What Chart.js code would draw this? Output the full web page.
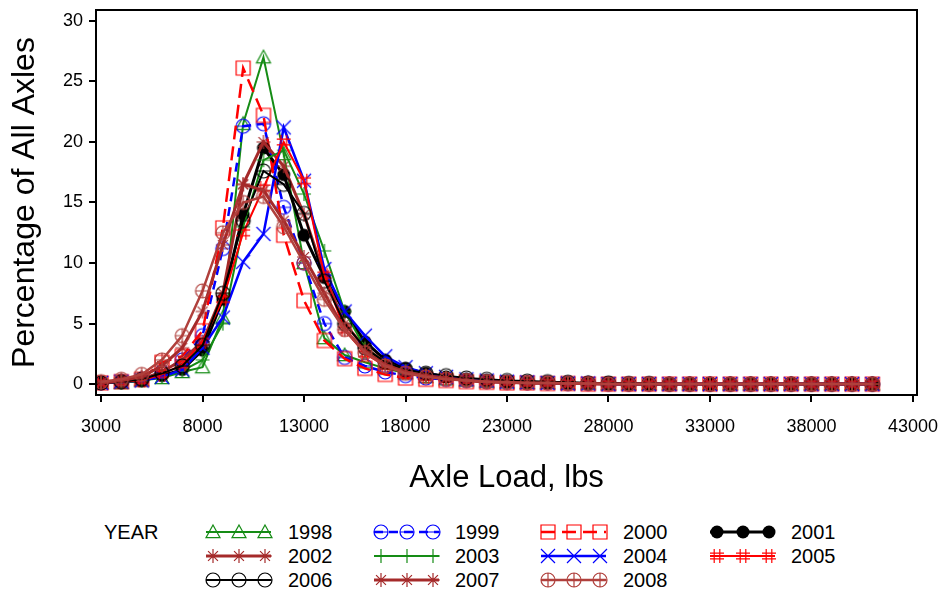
<!DOCTYPE html>
<html>
<head>
<meta charset="utf-8">
<script src="https://cdn.jsdelivr.net/npm/chart.js@4.4.0/dist/chart.umd.min.js"></script>
<style>
  body { margin: 0; background: #fff; font-family: "Liberation Sans", Arial, sans-serif; }
  #wrap { position: relative; width: 940px; height: 596px; }
  #c { position: absolute; left: 0; top: 0; }
  .leg { position: absolute; font-size: 20px; color: #000; line-height: 24px; }
  .leg canvas { position: absolute; }
</style>
</head>
<body>
<div id="wrap">
  <canvas id="c" width="940" height="505"></canvas>
  <div id="legend"></div>
</div>
<script>
const loads = [3000, 4000, 5000, 6000, 7000, 8000, 9000, 10000, 11000, 12000, 13000, 14000, 15000,
  16000, 17000, 18000, 19000, 20000, 21000, 22000, 23000, 24000, 25000, 26000, 27000, 28000, 29000,
  30000, 31000, 32000, 33000, 34000, 35000, 36000, 37000, 38000, 39000, 40000, 41000];
const xTicks = [3000, 8000, 13000, 18000, 23000, 28000, 33000, 38000, 43000];
const yTicks = [0, 5, 10, 15, 20, 25, 30];
const years = ["1998", "1999", "2000", "2001", "2002", "2003", "2004", "2005", "2006", "2007", "2008"];

const y1998 = [0.1, 0.1, 0.3, 0.5, 1.0, 1.4, 5.5, 21.5, 27.0, 19.0, 10.0, 3.8, 2.4, 1.8, 1.3, 0.9, 0.6, 0.4, 0.3, 0.2, 0.15, 0.1, 0.1, 0.05, 0.05, 0.0, 0.0, 0.0, 0.0, 0.0, 0.0, 0.0, 0.0, 0.0, 0.0, 0.0, 0.0, 0.0, 0.0];
const y1999 = [0.1, 0.2, 0.4, 1.0, 2.0, 4.0, 11.2, 21.3, 21.5, 14.6, 10.0, 5.0, 2.2, 1.5, 1.0, 0.7, 0.5, 0.4, 0.3, 0.2, 0.15, 0.1, 0.1, 0.05, 0.05, 0.0, 0.0, 0.0, 0.0, 0.0, 0.0, 0.0, 0.0, 0.0, 0.0, 0.0, 0.0, 0.0, 0.0];
const y2000 = [0.1, 0.2, 0.4, 1.8, 2.3, 4.4, 12.9, 26.1, 22.2, 12.3, 6.9, 3.6, 2.1, 1.3, 0.8, 0.5, 0.4, 0.3, 0.2, 0.15, 0.1, 0.1, 0.05, 0.05, 0.0, 0.0, 0.0, 0.0, 0.0, 0.0, 0.0, 0.0, 0.0, 0.0, 0.0, 0.0, 0.0, 0.0, 0.0];
const y2001 = [0.1, 0.2, 0.3, 0.7, 1.2, 2.8, 7.0, 14.0, 19.5, 17.3, 12.3, 8.8, 6.0, 3.5, 2.0, 1.3, 0.9, 0.6, 0.4, 0.3, 0.2, 0.15, 0.1, 0.1, 0.05, 0.05, 0.0, 0.0, 0.0, 0.0, 0.0, 0.0, 0.0, 0.0, 0.0, 0.0, 0.0, 0.0, 0.0];
const y2002 = [0.1, 0.2, 0.4, 1.0, 2.0, 3.5, 7.5, 16.5, 20.0, 18.0, 14.0, 9.0, 5.0, 3.0, 1.8, 1.1, 0.7, 0.5, 0.3, 0.2, 0.15, 0.1, 0.1, 0.05, 0.05, 0.0, 0.0, 0.0, 0.0, 0.0, 0.0, 0.0, 0.0, 0.0, 0.0, 0.0, 0.0, 0.0, 0.0];
const y2003 = [0.1, 0.1, 0.3, 0.6, 1.1, 2.0, 5.0, 13.0, 18.5, 19.3, 15.7, 11.0, 6.0, 3.0, 1.8, 1.1, 0.7, 0.5, 0.3, 0.2, 0.15, 0.1, 0.1, 0.05, 0.05, 0.0, 0.0, 0.0, 0.0, 0.0, 0.0, 0.0, 0.0, 0.0, 0.0, 0.0, 0.0, 0.0, 0.0];
const y2004 = [0.1, 0.2, 0.3, 0.6, 1.2, 3.0, 5.5, 10.1, 12.4, 21.2, 16.8, 9.5, 6.0, 4.0, 2.3, 1.4, 0.9, 0.6, 0.4, 0.3, 0.2, 0.15, 0.1, 0.05, 0.05, 0.0, 0.0, 0.0, 0.0, 0.0, 0.0, 0.0, 0.0, 0.0, 0.0, 0.0, 0.0, 0.0, 0.0];
const y2005 = [0.1, 0.2, 0.3, 0.8, 1.6, 3.5, 7.0, 12.5, 16.2, 20.0, 16.8, 9.0, 4.5, 2.5, 1.5, 0.9, 0.6, 0.4, 0.3, 0.2, 0.15, 0.1, 0.1, 0.05, 0.05, 0.0, 0.0, 0.0, 0.0, 0.0, 0.0, 0.0, 0.0, 0.0, 0.0, 0.0, 0.0, 0.0, 0.0];
const y2006 = [0.1, 0.2, 0.4, 0.9, 1.5, 3.2, 7.5, 13.5, 17.6, 16.5, 14.1, 8.5, 5.0, 3.0, 1.8, 1.2, 0.9, 0.7, 0.5, 0.4, 0.3, 0.25, 0.2, 0.15, 0.1, 0.1, 0.05, 0.05, 0.0, 0.0, 0.0, 0.0, 0.0, 0.0, 0.0, 0.0, 0.0, 0.0, 0.0];
const y2007 = [0.1, 0.3, 0.6, 1.5, 3.0, 6.0, 11.5, 16.5, 16.0, 13.5, 10.5, 7.5, 4.5, 2.7, 1.6, 1.0, 0.7, 0.5, 0.3, 0.2, 0.15, 0.1, 0.1, 0.05, 0.05, 0.0, 0.0, 0.0, 0.0, 0.0, 0.0, 0.0, 0.0, 0.0, 0.0, 0.0, 0.0, 0.0, 0.0];
const y2008 = [0.2, 0.4, 0.8, 2.0, 4.0, 7.7, 12.5, 15.0, 15.5, 13.0, 10.0, 7.0, 4.5, 2.6, 1.5, 0.9, 0.6, 0.4, 0.3, 0.2, 0.15, 0.1, 0.1, 0.05, 0.05, 0.0, 0.0, 0.0, 0.0, 0.0, 0.0, 0.0, 0.0, 0.0, 0.0, 0.0, 0.0, 0.0, 0.0];

const values = [y1998, y1999, y2000, y2001, y2002, y2003, y2004, y2005, y2006, y2007, y2008];
const colors = ["#158c15", "#0000ff", "#ff0000", "#000000", "#a52a2a", "#158c15", "#0000ff", "#ff0000", "#000000", "#a52a2a", "#b0403c"];
const markers = ["triangle", "circleBar", "square", "dot", "star", "plus", "x", "hash", "circleBar", "star", "circlePlus"];
const widths = [2, 2.5, 2.5, 3, 3, 2, 2.5, 2, 2, 3, 2.5];
const dashes = [[], [9, 6], [14, 7], [], [], [], [], [], [], [], []];

function drawMarker(ctx, kind, cx, cy, r, color) {
  ctx.save();
  ctx.strokeStyle = color;
  ctx.fillStyle = color;
  ctx.lineWidth = 1.2;
  ctx.setLineDash([]);
  ctx.beginPath();
  if (kind === "triangle") {
    ctx.moveTo(cx, cy - r);
    ctx.lineTo(cx + r, cy + r * 0.8);
    ctx.lineTo(cx - r, cy + r * 0.8);
    ctx.closePath();
  } else if (kind === "square") {
    ctx.rect(cx - r, cy - r, 2 * r, 2 * r);
  } else if (kind === "dot") {
    ctx.arc(cx, cy, r - 0.5, 0, Math.PI * 2);
    ctx.fill();
  } else if (kind === "circleBar" || kind === "circlePlus") {
    ctx.arc(cx, cy, r, 0, Math.PI * 2);
    ctx.moveTo(cx - r, cy);
    ctx.lineTo(cx + r, cy);
    if (kind === "circlePlus") {
      ctx.moveTo(cx, cy - r);
      ctx.lineTo(cx, cy + r);
    }
  } else if (kind === "star") {
    for (let k = 0; k < 4; k++) {
      const a = k * Math.PI / 4;
      ctx.moveTo(cx + Math.cos(a) * r, cy + Math.sin(a) * r);
      ctx.lineTo(cx - Math.cos(a) * r, cy - Math.sin(a) * r);
    }
  } else if (kind === "plus") {
    ctx.moveTo(cx - r, cy); ctx.lineTo(cx + r, cy);
    ctx.moveTo(cx, cy - r); ctx.lineTo(cx, cy + r);
  } else if (kind === "x") {
    ctx.moveTo(cx - r, cy - r); ctx.lineTo(cx + r, cy + r);
    ctx.moveTo(cx + r, cy - r); ctx.lineTo(cx - r, cy + r);
  } else if (kind === "hash") {
    const q = r * 0.4;
    ctx.moveTo(cx - q, cy - r); ctx.lineTo(cx - q, cy + r);
    ctx.moveTo(cx + q, cy - r); ctx.lineTo(cx + q, cy + r);
    ctx.moveTo(cx - r, cy - q); ctx.lineTo(cx + r, cy - q);
    ctx.moveTo(cx - r, cy + q); ctx.lineTo(cx + r, cy + q);
  }
  if (kind !== "dot") ctx.stroke();
  ctx.restore();
}

function markerImage(kind, color) {
  const r = 7;
  const c = document.createElement("canvas");
  c.width = c.height = 2 * r + 4;
  drawMarker(c.getContext("2d"), kind, r + 2, r + 2, r, color);
  return c;
}

const datasets = years.map((year, i) => ({
  label: year,
  data: loads.map((x, j) => ({ x: x, y: values[i][j] })),
  borderColor: colors[i],
  backgroundColor: colors[i],
  borderWidth: widths[i],
  borderDash: dashes[i],
  pointStyle: markerImage(markers[i], colors[i]),
  pointRadius: 7,
  tension: 0,
  order: years.length - i,
}));

const frame = {
  id: "frame",
  afterDraw(chart) {
    const { ctx, chartArea: a } = chart;
    ctx.save();
    ctx.strokeStyle = "#000";
    ctx.lineWidth = 2;
    ctx.strokeRect(a.left, a.top, a.right - a.left, a.bottom - a.top);
    ctx.restore();
  },
};

new Chart(document.getElementById("c"), {
  type: "line",
  data: { datasets },
  plugins: [frame],
  options: {
    responsive: false,
    devicePixelRatio: 1,
    animation: false,
    layout: { padding: { top: 9, right: 23, left: 0, bottom: 0 } },
    plugins: { legend: { display: false }, tooltip: { enabled: false } },
    scales: {
      x: {
        type: "linear",
        min: 2750,
        max: 43200,
        afterBuildTicks: (s) => { s.ticks = xTicks.map((v) => ({ value: v })); },
        afterFit: (s) => { s.height = 110; s.paddingLeft = 0; s.paddingRight = 0; },
        ticks: { color: "#000", font: { size: 18, family: "Liberation Sans" }, padding: 14, maxRotation: 0, callback: (v) => String(v) },
        grid: { drawOnChartArea: false, tickLength: 7, color: "#000", lineWidth: 2 },
        border: { color: "#000", width: 2 },
        title: { display: true, text: "Axle Load, lbs", color: "#000", font: { size: 31, family: "Liberation Sans" }, padding: { top: 0, bottom: 8 } },
      },
      y: {
        min: -0.9,
        max: 30.9,
        afterBuildTicks: (s) => { s.ticks = yTicks.map((v) => ({ value: v })); },
        afterFit: (s) => { s.width = 96; s.paddingTop = 0; s.paddingBottom = 0; },
        ticks: { color: "#000", font: { size: 18, family: "Liberation Sans" }, padding: 6 },
        grid: { drawOnChartArea: false, tickLength: 7, color: "#000", lineWidth: 2 },
        border: { color: "#000", width: 2 },
        title: { display: true, text: "Percentage of All Axles", color: "#000", font: { size: 32, family: "Liberation Sans" }, padding: { top: 6, bottom: 0 } },
      },
    },
  },
});

// legend: YEAR title plus 4 columns of sample + label
const symLeft = [206, 374, 541, 710];
const textLeft = [288, 455, 623, 791];
const rowY = [532, 556, 580];
const legend = document.getElementById("legend");

function addText(txt, x, y) {
  const d = document.createElement("div");
  d.className = "leg";
  d.textContent = txt;
  d.style.left = x + "px";
  d.style.top = (y - 12) + "px";
  legend.appendChild(d);
}

addText("YEAR", 104, rowY[0]);
years.forEach((year, i) => {
  const col = i % 4;
  const row = Math.floor(i / 4);
  const c = document.createElement("canvas");
  c.width = 70;
  c.height = 22;
  c.style.position = "absolute";
  c.style.left = (symLeft[col] - 2) + "px";
  c.style.top = (rowY[row] - 11) + "px";
  const ctx = c.getContext("2d");
  ctx.strokeStyle = colors[i];
  ctx.lineWidth = widths[i];
  ctx.setLineDash(dashes[i]);
  ctx.beginPath();
  ctx.moveTo(2, 11);
  ctx.lineTo(67, 11);
  ctx.stroke();
  [9, 35, 61].forEach((mx) => drawMarker(ctx, markers[i], mx, 11, 7, colors[i]));
  legend.appendChild(c);
  addText(year, textLeft[col], rowY[row]);
});
</script>
</body>
</html>
